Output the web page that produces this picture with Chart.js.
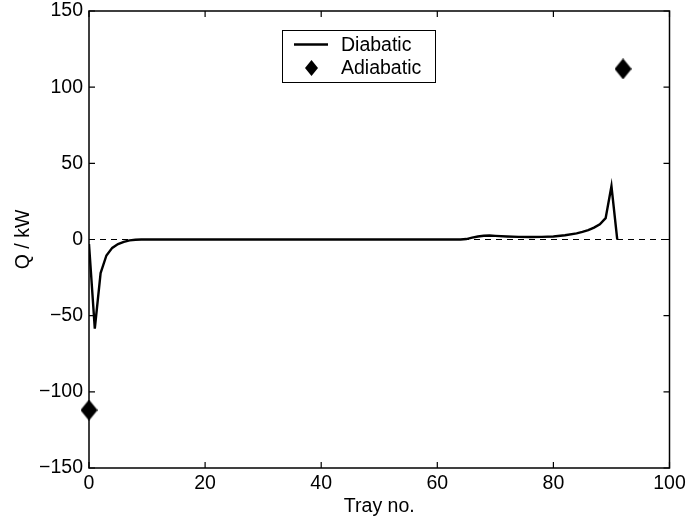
<!DOCTYPE html>
<html>
<head>
<meta charset="utf-8">
<script src="https://cdn.jsdelivr.net/npm/chart.js@4"></script>
<style>
  html, body { margin: 0; padding: 0; background: #fff; }
  canvas { display: block; }
</style>
</head>
<body>
<canvas id="qChart" width="689" height="523"></canvas>
<script>
// ─── Heat duty per tray: diabatic profile vs adiabatic reboiler/condenser ───

const diabaticTrays = [0, 1, 2, 3, 4, 5, 6, 7, 8, 9, 20, 30, 40, 50, 60, 64, 65, 66, 67, 68, 69, 70, 72, 74, 76, 78, 80, 82, 84, 85, 86, 87, 88, 89, 90, 91];
const diabaticQ = [-3, -58.5, -22, -10.5, -5.5, -3, -1.5, -0.6, -0.2, 0, 0, 0, 0, 0, 0, 0, 0.3, 1.2, 2, 2.5, 2.6, 2.4, 2, 1.7, 1.6, 1.7, 2, 2.8, 4, 5, 6.2, 7.8, 10, 14, 35, 0];

const adiabaticTrays = [0, 92];
const adiabaticQ = [-112, 112];

const zeroLineTrays = [0, 100];
const zeroLineQ = [0, 0];

const FONT_FAMILY = '"Liberation Sans", Arial, Helvetica, sans-serif';
const FONT_SIZE = 19.5;

Chart.defaults.font.family = FONT_FAMILY;
Chart.defaults.font.size = FONT_SIZE;
Chart.defaults.color = '#000';

function makeDiamond(w, h) {
    const c = document.createElement('canvas');
    c.width = w;
    c.height = h;
    const g = c.getContext('2d');
    g.beginPath();
    g.moveTo(w / 2, 0);
    g.lineTo(w, h / 2);
    g.lineTo(w / 2, h);
    g.lineTo(0, h / 2);
    g.closePath();
    g.fillStyle = '#000';
    g.fill();
    return c;
}

const toPoints = (xs, ys) => xs.map((x, i) => ({ x, y: ys[i] }));

// Box around the plot, with ticks pointing inwards on all four sides
const boxPlugin = {
    id: 'boxAndTicks',
    afterDatasetsDraw(chart) {
        const { ctx, chartArea: a, scales: { x, y } } = chart;
        const tl = 6;
        ctx.save();
        ctx.strokeStyle = '#000';
        ctx.lineWidth = 1.2;
        ctx.beginPath();
        x.ticks.forEach(t => {
            const px = x.getPixelForValue(t.value);
            ctx.moveTo(px, a.bottom); ctx.lineTo(px, a.bottom - tl);
            ctx.moveTo(px, a.top); ctx.lineTo(px, a.top + tl);
        });
        y.ticks.forEach(t => {
            const py = y.getPixelForValue(t.value);
            ctx.moveTo(a.left, py); ctx.lineTo(a.left + tl, py);
            ctx.moveTo(a.right, py); ctx.lineTo(a.right - tl, py);
        });
        ctx.stroke();
        ctx.lineWidth = 1.5;
        ctx.strokeRect(a.left, a.top, a.right - a.left, a.bottom - a.top);
        ctx.restore();
    }
};

// Legend box inside the plot area
const legendPlugin = {
    id: 'boxLegend',
    afterDraw(chart) {
        const { ctx, chartArea: a } = chart;
        const left = a.left + 193, top = a.top + 19, w = 153, h = 52;
        ctx.save();
        ctx.fillStyle = '#fff';
        ctx.fillRect(left, top, w, h);
        ctx.strokeStyle = '#000';
        ctx.lineWidth = 1;
        ctx.strokeRect(left + 0.5, top + 0.5, w, h);

        const row1 = top + 14.5, row2 = top + 38;
        ctx.lineWidth = 2.4;
        ctx.beginPath();
        ctx.moveTo(left + 12, row1);
        ctx.lineTo(left + 46, row1);
        ctx.stroke();

        ctx.drawImage(makeDiamond(13, 16), left + 23, row2 - 8);

        ctx.fillStyle = '#000';
        ctx.font = FONT_SIZE + 'px ' + FONT_FAMILY;
        ctx.textAlign = 'left';
        ctx.textBaseline = 'middle';
        ctx.fillText('Diabatic', left + 59, row1 + 1);
        ctx.fillText('Adiabatic', left + 59, row2 + 1);
        ctx.restore();
    }
};

new Chart(document.getElementById('qChart'), {
    type: 'line',
    data: {
        datasets: [
            {
                label: 'Diabatic',
                data: toPoints(diabaticTrays, diabaticQ),
                borderColor: '#000',
                borderWidth: 2.4,
                pointRadius: 0,
                tension: 0,
                fill: false
            },
            {
                label: 'Adiabatic',
                data: toPoints(adiabaticTrays, adiabaticQ),
                showLine: false,
                pointStyle: makeDiamond(17, 21),
                pointRadius: 10,
                backgroundColor: '#000',
                borderColor: '#000',
                clip: false
            },
            {
                label: 'zero',
                data: toPoints(zeroLineTrays, zeroLineQ),
                borderColor: '#000',
                borderWidth: 1,
                borderDash: [6, 5],
                pointRadius: 0,
                fill: false
            }
        ]
    },
    options: {
        responsive: false,
        animation: false,
        events: [],
        layout: { padding: { top: 10, right: 19.5, left: 0, bottom: 0 } },
        plugins: {
            legend: { display: false },
            tooltip: { enabled: false }
        },
        scales: {
            x: {
                type: 'linear',
                min: 0,
                max: 100,
                ticks: { stepSize: 20, padding: 4, maxRotation: 0, font: { size: FONT_SIZE } },
                grid: { display: false, drawTicks: false },
                border: { display: false },
                title: { display: true, text: 'Tray no.', padding: { top: 0, bottom: 5 }, font: { size: FONT_SIZE } },
                afterFit(scale) {
                    scale.height = 55;
                    scale.paddingLeft = 0;
                    scale.paddingRight = 0;
                }
            },
            y: {
                type: 'linear',
                min: -150,
                max: 150,
                ticks: {
                    stepSize: 50,
                    padding: 6,
                    font: { size: FONT_SIZE },
                    callback: v => String(v).replace('-', '\u2212')
                },
                grid: { display: false, drawTicks: false },
                border: { display: false },
                title: { display: true, text: 'Q / kW', padding: { top: 12, bottom: 0 }, font: { size: FONT_SIZE } },
                afterFit(scale) {
                    scale.width = 89;
                    scale.paddingTop = 0;
                    scale.paddingBottom = 0;
                }
            }
        }
    },
    plugins: [boxPlugin, legendPlugin]
});
</script>
</body>
</html>
